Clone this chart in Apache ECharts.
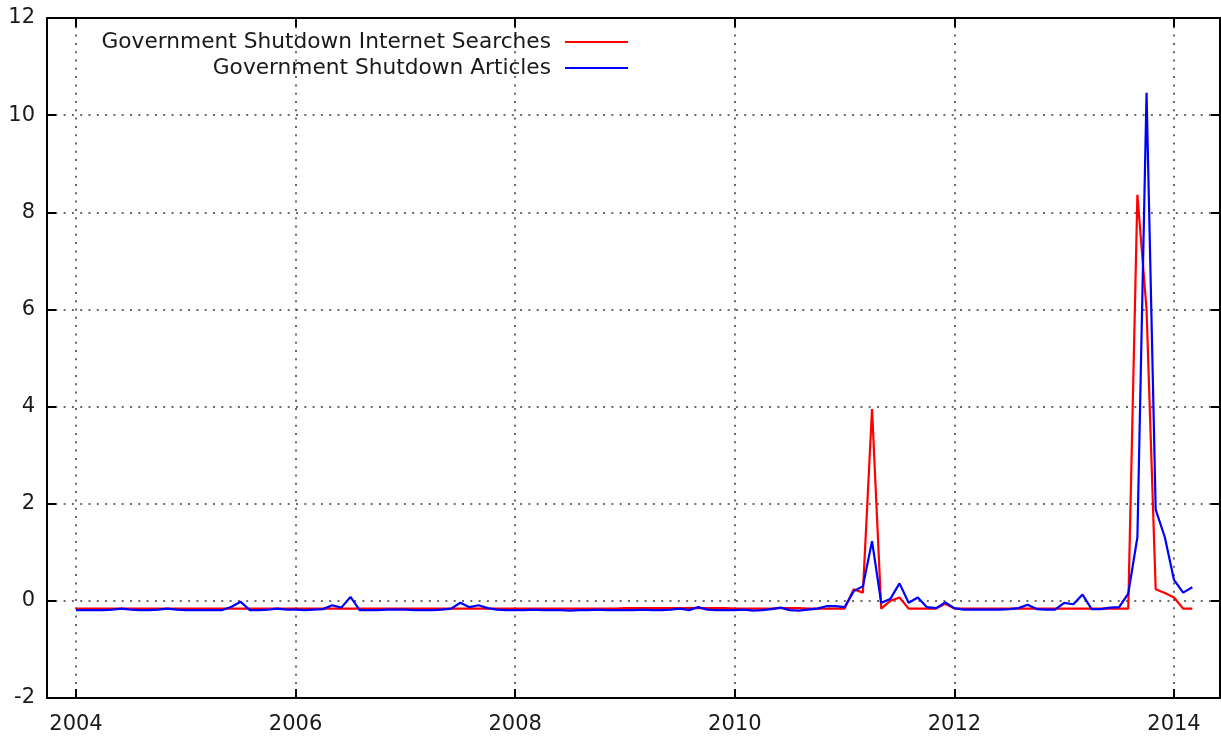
<!DOCTYPE html>
<html>
<head>
<meta charset="utf-8">
<script src="https://cdn.jsdelivr.net/npm/echarts@6/dist/echarts.min.js"></script>
<style>
  html, body { margin: 0; padding: 0; background: #fff; }
  #chart { width: 1221px; height: 738px; }
</style>
</head>
<body>
<div id="chart"></div>
<script>
// monthly values, Jan 2004 .. Mar 2014
const startYear = 2004;
const seriesNames = ['Government Shutdown Internet Searches', 'Government Shutdown Articles'];

const searches = [
  -0.16, -0.16, -0.16, -0.16, -0.16, -0.16, -0.16, -0.16, -0.16, -0.16, -0.16, -0.16, // 2004
  -0.16, -0.16, -0.16, -0.16, -0.16, -0.16, -0.16, -0.16, -0.16, -0.16, -0.16, -0.16, // 2005
  -0.16, -0.16, -0.16, -0.16, -0.16, -0.16, -0.16, -0.16, -0.16, -0.16, -0.16, -0.16, // 2006
  -0.16, -0.16, -0.16, -0.16, -0.16, -0.16, -0.16, -0.16, -0.16, -0.16, -0.16, -0.16, // 2007
  -0.16, -0.16, -0.16, -0.16, -0.16, -0.16, -0.16, -0.16, -0.16, -0.16, -0.16, -0.16, // 2008
  -0.15, -0.15, -0.15, -0.15, -0.15, -0.15, -0.15, -0.15, -0.15, -0.15, -0.15, -0.15, // 2009
  -0.16, -0.16, -0.16, -0.16, -0.16, -0.15, -0.15, -0.15, -0.16, -0.16, -0.16, -0.16, // 2010
  -0.16, 0.24, 0.17, 3.95, -0.16, 0.0, 0.07, -0.16, -0.16, -0.16, -0.16, -0.06,     // 2011
  -0.16, -0.16, -0.16, -0.16, -0.16, -0.16, -0.16, -0.16, -0.16, -0.16, -0.16, -0.16, // 2012
  -0.16, -0.16, -0.16, -0.16, -0.16, -0.16, -0.16, -0.16, 8.36, 6.0, 0.24, 0.16,    // 2013
  0.07, -0.16, -0.16                                                                  // 2014
];

const articles = [
  -0.19, -0.19, -0.19, -0.19, -0.18, -0.16, -0.18, -0.19, -0.19, -0.18, -0.16, -0.18, // 2004
  -0.19, -0.19, -0.19, -0.19, -0.19, -0.12, -0.02, -0.19, -0.19, -0.18, -0.16, -0.18, // 2005
  -0.18, -0.19, -0.18, -0.17, -0.09, -0.14, 0.08, -0.19, -0.19, -0.19, -0.18, -0.18,  // 2006
  -0.18, -0.19, -0.19, -0.19, -0.18, -0.16, -0.04, -0.13, -0.09, -0.15, -0.18, -0.19, // 2007
  -0.19, -0.19, -0.18, -0.19, -0.19, -0.19, -0.2, -0.19, -0.19, -0.18, -0.19, -0.19,  // 2008
  -0.19, -0.19, -0.18, -0.19, -0.19, -0.18, -0.16, -0.19, -0.13, -0.18, -0.19, -0.19, // 2009
  -0.19, -0.18, -0.2, -0.19, -0.17, -0.14, -0.19, -0.2, -0.18, -0.16, -0.11, -0.11,   // 2010
  -0.13, 0.2, 0.3, 1.23, -0.04, 0.04, 0.36, -0.04, 0.07, -0.13, -0.15, -0.03,         // 2011
  -0.15, -0.18, -0.18, -0.18, -0.18, -0.18, -0.17, -0.15, -0.08, -0.17, -0.18, -0.18, // 2012
  -0.04, -0.07, 0.13, -0.17, -0.17, -0.14, -0.13, 0.15, 1.31, 10.46, 1.88, 1.31,      // 2013
  0.43, 0.17, 0.28                                                                    // 2014
];

const yearTicks = [2004, 2006, 2008, 2010, 2012, 2014];

const toPoints = arr => arr.map((v, i) => [startYear + i / 12, v]);

const font = 'DejaVu Sans';
const fontSize = 21;
const textColor = '#1a1a1a';
const axisColor = '#000';
const gridLine = { show: true, lineStyle: { color: '#3a3a3a', width: 1.5, type: [2, 6.3] } };

const xBase = {
  type: 'value',
  min: 2003.736,
  max: 2014.419,
  axisLine: { show: true, onZero: false, lineStyle: { color: axisColor, width: 2 } },
  axisTick: { show: true, inside: true, length: 9, customValues: yearTicks, lineStyle: { color: axisColor, width: 2 } }
};

const yBase = {
  type: 'value',
  min: -2,
  max: 12,
  interval: 2,
  axisLine: { show: true, onZero: false, lineStyle: { color: axisColor, width: 2 } },
  axisTick: { show: true, inside: true, length: 9, lineStyle: { color: axisColor, width: 2 } }
};

const chart = echarts.init(document.getElementById('chart'), null, { renderer: 'canvas' });

chart.setOption({
  animation: false,
  backgroundColor: '#fff',
  grid: { left: 47, right: 1, top: 18, bottom: 40 },
  legend: {
    data: seriesNames,
    orient: 'vertical',
    align: 'right',
    right: 593,
    top: 31,
    icon: 'rect',
    itemWidth: 63,
    itemHeight: 2,
    itemGap: 4,
    padding: 0,
    textStyle: { fontFamily: font, fontSize: 21.7, color: textColor, padding: [0, 9, 0, 0] }
  },
  xAxis: [
    Object.assign({}, xBase, {
      position: 'bottom',
      splitLine: gridLine,
      axisLabel: { show: true, customValues: yearTicks, margin: 16, fontFamily: font, fontSize: fontSize, color: textColor, formatter: v => String(Math.round(v)) }
    }),
    Object.assign({}, xBase, {
      position: 'top',
      splitLine: { show: false },
      axisLabel: { show: false }
    })
  ],
  yAxis: [
    Object.assign({}, yBase, {
      position: 'left',
      splitLine: gridLine,
      axisLabel: { show: true, margin: 12, fontFamily: font, fontSize: fontSize, color: textColor }
    }),
    Object.assign({}, yBase, {
      position: 'right',
      splitLine: { show: false },
      axisLabel: { show: false }
    })
  ],
  series: [
    {
      name: seriesNames[0],
      type: 'line',
      data: toPoints(searches),
      symbol: 'none',
      color: '#ff0000',
      lineStyle: { color: '#ff0000', width: 2.2 }
    },
    {
      name: seriesNames[1],
      type: 'line',
      data: toPoints(articles),
      symbol: 'none',
      color: '#0000ff',
      lineStyle: { color: '#0000ff', width: 2.2 }
    }
  ]
});
</script>
</body>
</html>
